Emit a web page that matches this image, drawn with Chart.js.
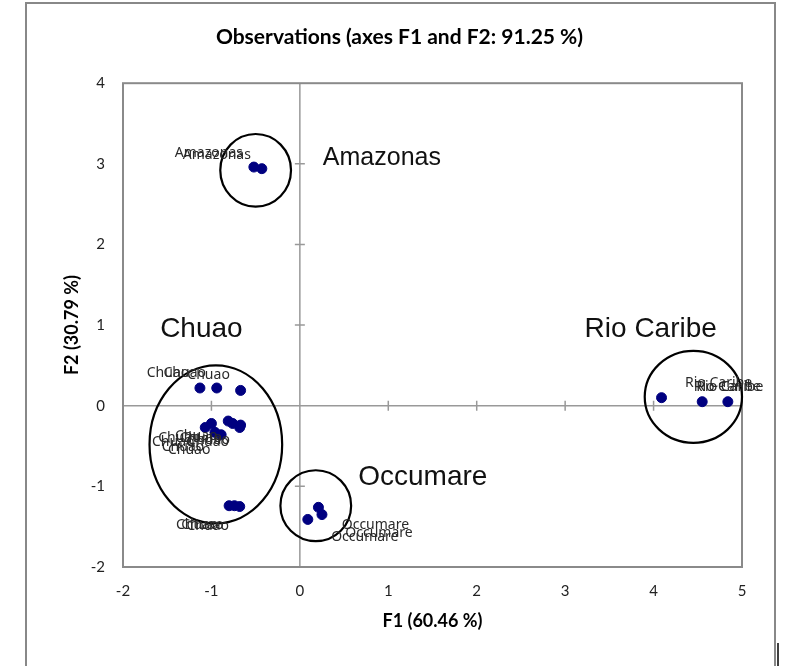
<!DOCTYPE html>
<html>
<head>
<meta charset="utf-8">
<title>Observations</title>
<script src="https://cdn.jsdelivr.net/npm/chart.js@4.4.1/dist/chart.umd.min.js"></script>
<style>
  body { margin: 0; background: #fff; }
</style>
</head>
<body>
<canvas id="graphique" width="785" height="666"></canvas>
<script>

// Coordonnées des observations sur F1 / F2
const amazonasF1 = [-0.52, -0.43];
const amazonasF2 = [2.96, 2.94];

const chuaoF1 = [-1.13, -0.94, -0.67, -1.07, -1.00, -0.96, -0.89, -0.81, -0.76, -0.68, -0.67, -0.80, -0.74, -0.68];
const chuaoF2 = [0.22, 0.22, 0.19, -0.27, -0.22, -0.33, -0.36, -0.19, -0.22, -0.27, -0.24, -1.24, -1.24, -1.25];

const occumareF1 = [0.09, 0.21, 0.25];
const occumareF2 = [-1.41, -1.26, -1.35];

const rioCaribeF1 = [4.09, 4.55, 4.84];
const rioCaribeF2 = [0.10, 0.05, 0.05];

const groupes = ['Amazonas', 'Chuao', 'Occumare', 'Rio Caribe'];
const ticksF1 = [-2, -1, 0, 1, 2, 3, 4, 5];
const ticksF2 = [-2, -1, 0, 1, 2, 3, 4];

function points(xs, ys) {
  return xs.map((x, i) => ({ x: x, y: ys[i] }));
}

// dx : décalage horizontal de l'étiquette (nombre, ou un par point)
const serie = (nom, xs, ys, dx, dy) => ({
  label: nom,
  data: points(xs, ys),
  backgroundColor: '#000080',
  borderColor: '#000080',
  pointRadius: 5,
  pointHoverRadius: 5,
  labelDx: dx,
  labelDy: dy
});

// Ellipses autour des groupes (unités des axes)
const ellipses = [
  { cx: -0.50, cy: 2.92, rx: 0.40, ry: 0.45 },
  { cx: -0.95, cy: -0.48, rx: 0.75, ry: 0.98 },
  { cx: 0.18, cy: -1.24, rx: 0.40, ry: 0.44 },
  { cx: 4.45, cy: 0.11, rx: 0.55, ry: 0.57 }
];

// Étiquettes des groupes
const etiquettes = [
  { texte: groupes[0], x: 0.26, y: 3.07, taille: 25 },
  { texte: groupes[1], x: -1.58, y: 0.95, taille: 28 },
  { texte: groupes[2], x: 0.66, y: -0.89, taille: 28 },
  { texte: groupes[3], x: 3.22, y: 0.95, taille: 28 }
];

const decor = {
  id: 'decor',
  beforeDatasetsDraw(chart) {
    const { ctx, chartArea: a, scales: { x, y } } = chart;
    ctx.save();
    // cadre extérieur
    ctx.strokeStyle = '#888';
    ctx.lineWidth = 2;
    ctx.strokeRect(26, 3, 749, 700);
    ctx.strokeStyle = '#000';
    ctx.lineWidth = 1.5;
    ctx.beginPath();
    ctx.moveTo(778, 643);
    ctx.lineTo(778, 666);
    ctx.stroke();

    // axes passant par l'origine
    const x0 = x.getPixelForValue(0);
    const y0 = y.getPixelForValue(0);
    ctx.strokeStyle = '#999';
    ctx.lineWidth = 1.5;
    ctx.beginPath();
    ctx.moveTo(x0, a.top); ctx.lineTo(x0, a.bottom);
    ctx.moveTo(a.left, y0); ctx.lineTo(a.right, y0);
    ticksF1.forEach(v => {
      if (v === 0 || v === ticksF1[0] || v === ticksF1[ticksF1.length - 1]) return;
      const px = x.getPixelForValue(v);
      ctx.moveTo(px, y0 - 5); ctx.lineTo(px, y0 + 5);
    });
    ticksF2.forEach(v => {
      if (v === 0 || v === ticksF2[0] || v === ticksF2[ticksF2.length - 1]) return;
      const py = y.getPixelForValue(v);
      ctx.moveTo(x0 - 5, py); ctx.lineTo(x0 + 5, py);
    });
    ctx.stroke();

    // bordure de la zone de tracé
    ctx.strokeStyle = '#8a8a8a';
    ctx.lineWidth = 2;
    ctx.strokeRect(a.left, a.top, a.right - a.left, a.bottom - a.top);
    ctx.restore();
  },
  afterDatasetsDraw(chart) {
    const { ctx, scales: { x, y } } = chart;
    ctx.save();
    // ellipses
    ctx.strokeStyle = '#000';
    ctx.lineWidth = 2.2;
    ellipses.forEach(e => {
      const cx = x.getPixelForValue(e.cx);
      const cy = y.getPixelForValue(e.cy);
      const rx = Math.abs(x.getPixelForValue(e.cx + e.rx) - cx);
      const ry = Math.abs(y.getPixelForValue(e.cy + e.ry) - cy);
      ctx.beginPath();
      ctx.ellipse(cx, cy, rx, ry, 0, 0, Math.PI * 2);
      ctx.stroke();
    });

    // nom de chaque observation
    ctx.fillStyle = '#2a2a2a';
    ctx.font = '14px "Noto Sans"';
    ctx.textAlign = 'center';
    ctx.textBaseline = 'middle';
    chart.data.datasets.forEach(ds => {
      ds.data.forEach((p, i) => {
        const px = x.getPixelForValue(p.x);
        const py = y.getPixelForValue(p.y);
        const dx = Array.isArray(ds.labelDx) ? ds.labelDx[i] : ds.labelDx;
        const dy = p.y < -1 ? ds.labelDy + 4 : (p.y > 0 ? -Math.abs(ds.labelDy) : ds.labelDy);
        ctx.fillText(ds.label, px + dx, py + dy);
      });
    });

    // noms des groupes
    ctx.fillStyle = '#111';
    ctx.textAlign = 'left';
    etiquettes.forEach(t => {
      ctx.font = t.taille + 'px "Liberation Sans", Arial';
      ctx.fillText(t.texte, x.getPixelForValue(t.x), y.getPixelForValue(t.y));
    });
    ctx.restore();
  }
};

const ctx = document.getElementById('graphique').getContext('2d');

new Chart(ctx, {
  type: 'scatter',
  data: {
    datasets: [
      serie(groupes[0], amazonasF1, amazonasF2, -45, -14),
      serie(groupes[1], chuaoF1, chuaoF2, -32, 15),
      serie(groupes[2], occumareF1, occumareF2, 57, 14),
      serie(groupes[3], rioCaribeF1, rioCaribeF2, [57, 25, 2], -15)
    ]
  },
  options: {
    responsive: false,
    animation: false,
    layout: { padding: { left: 57, right: 43, top: 12, bottom: 30 } },
    plugins: {
      legend: { display: false },
      tooltip: { enabled: false },
      title: {
        display: true,
        text: 'Observations (axes F1 and F2: 91.25 %)',
        color: '#000',
        font: { family: 'Lato', size: 21, weight: 'bold' },
        padding: { top: 13, bottom: 33 }
      }
    },
    scales: {
      x: {
        type: 'linear',
        min: -2,
        max: 5,
        afterBuildTicks: s => { s.ticks = ticksF1.map(v => ({ value: v })); },
        afterFit: s => { s.height = 69; },
        grid: { display: false, drawTicks: false },
        border: { display: false },
        ticks: { color: '#222', padding: 15, font: { family: 'Lato', size: 15 } },
        title: {
          display: true,
          text: 'F1 (60.46 %)',
          color: '#000',
          font: { family: 'Lato', size: 18, weight: 'bold' }
        }
      },
      y: {
        type: 'linear',
        min: -2,
        max: 4,
        afterBuildTicks: s => { s.ticks = ticksF2.map(v => ({ value: v })); },
        afterFit: s => { s.width = 66; },
        grid: { display: false, drawTicks: false },
        border: { display: false },
        ticks: { color: '#222', padding: 18, font: { family: 'Lato', size: 15 } },
        title: {
          display: true,
          text: 'F2 (30.79 %)',
          color: '#000',
          font: { family: 'Lato', size: 18, weight: 'bold' }
        }
      }
    }
  },
  plugins: [decor]
});
</script>
</body>
</html>
